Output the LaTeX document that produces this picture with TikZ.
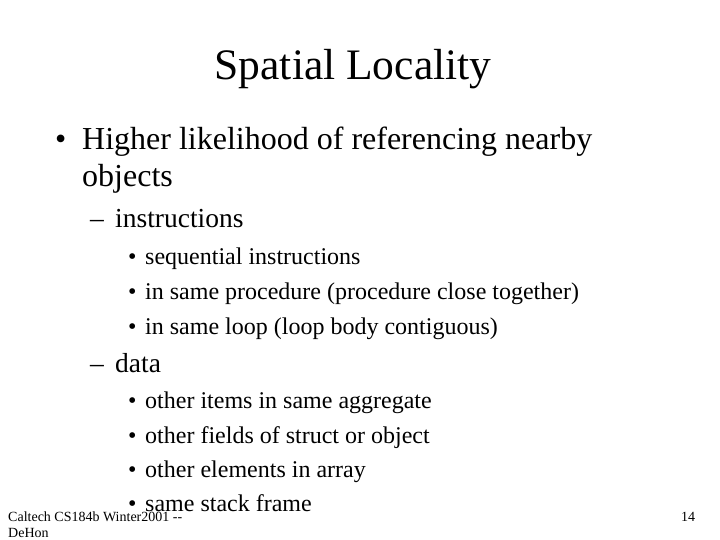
\documentclass[tikz,border=0pt]{standalone}
\usepackage{fontspec}
\setmainfont{Liberation Serif}
\usetikzlibrary{positioning}

\begin{document}
\begin{tikzpicture}[x=1pt,y=-1pt]
  %----- styles
  \tikzset{
    txt/.style   ={anchor=base west,inner sep=0pt},
    title/.style ={anchor=base,inner sep=0pt,font=\fontsize{43.5}{48}\selectfont},
    lone/.style  ={txt,font=\fontsize{32}{36}\selectfont},
    ltwo/.style  ={txt,font=\fontsize{27.5}{31}\selectfont},
    lthree/.style={txt,font=\fontsize{24}{28}\selectfont},
    foot/.style  ={txt,font=\fontsize{14}{16}\selectfont}
  }
  \useasboundingbox (0,0) rectangle (720,540);

  %----- title
  \node[title] (head) at (353,80) {Spatial Locality};

  %----- level one
  \node[lone] (b1)  at (55,150)  {\textbullet};
  \node[lone] (t1)  at (82,150)  {Higher likelihood of referencing nearby};
  \node[lone] (t1b) at (82,187)  {objects};

  % instructions
  \node[ltwo] (d1) at (90,228)  {--};
  \node[ltwo] (ins) at (115,228) {instructions};
  \foreach \y/\s [count=\i] in {264/sequential instructions,
      299/in same procedure (procedure close together),
      334/in same loop (loop body contiguous)} {
    \node[lthree] (ib\i) at (128,\y) {\textbullet};
    \node[lthree] (it\i) at (145,\y) {\s};
  }

  % data
  \node[ltwo] (d2) at (90,372)  {--};
  \node[ltwo] (dat) at (115,372) {data};
  \foreach \y/\s [count=\i] in {408/other items in same aggregate,
      443/other fields of struct or object,
      477/other elements in array,
      511/same stack frame} {
    \node[lthree] (db\i) at (128,\y) {\textbullet};
    \node[lthree] (dt\i) at (145,\y) {\s};
  }

  %----- footer
  \node[foot] (f1) at (8,521) {Caltech CS184b Winter2001 {-}{-}};
  \node[foot] (f2) at (8,537) {DeHon};
  \node[foot] (pg) at (681,521) {14};
\end{tikzpicture}
\end{document}
